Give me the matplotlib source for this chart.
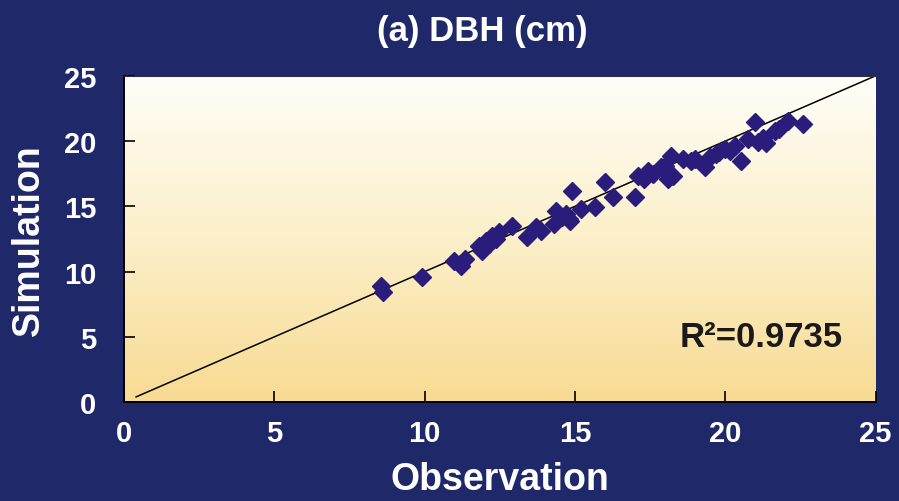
import numpy as np
import matplotlib.pyplot as plt
from matplotlib.colors import LinearSegmentedColormap

# observed vs simulated DBH (cm)
obs = [8.55, 8.62, 9.91, 10.97, 11.21, 11.34, 11.80, 11.90, 12.04, 12.14, 12.23,
       12.37, 12.47, 12.90, 13.40, 13.69, 13.86, 14.29, 14.36, 14.56, 14.69, 14.79,
       14.85, 14.89, 15.19, 15.68, 16.01, 16.28, 17.01, 17.11, 17.30, 17.44, 17.60,
       17.87, 18.00, 18.10, 18.20, 18.27, 18.60, 18.87, 19.00, 19.33, 19.50, 19.70,
       19.80, 19.99, 20.16, 20.32, 20.52, 20.76, 20.99, 21.09, 21.25, 21.35, 21.65,
       21.78, 22.08, 22.58]
sim = [8.90, 8.44, 9.59, 10.82, 10.43, 10.97, 11.96, 11.58, 12.35, 12.12, 12.73,
       12.50, 13.04, 13.50, 12.65, 13.42, 13.11, 13.65, 14.65, 14.19, 14.42, 14.03,
       13.88, 16.18, 14.80, 14.95, 16.87, 15.72, 15.72, 17.33, 17.10, 17.71, 17.50,
       18.02, 18.10, 17.10, 18.87, 17.33, 18.60, 18.48, 18.63, 18.02, 18.80, 19.02,
       19.20, 19.40, 19.25, 19.63, 18.48, 20.17, 21.47, 19.94, 20.20, 19.86, 20.78,
       20.90, 21.55, 21.32]

fit_slope = 1.0
fit_intercept = 0.0
fit_range = [0.4, 25]
r2_text = "R\u00b2=0.9735"

navy = "#1f2868"
marker_col = "#2a1c7a"

plt.rcParams["font.family"] = ["Liberation Sans", "DejaVu Sans"]
plt.rcParams["font.weight"] = "bold"

fig = plt.figure(figsize=(8.99, 5.02), dpi=100, facecolor=navy)
ax = fig.add_axes([0.138, 0.197, 0.836, 0.650])

# pale yellow gradient behind the points
grad = np.linspace(0, 1, 256).reshape(-1, 1)
cmap = LinearSegmentedColormap.from_list("bg", ["#f8db93", "#fcefc9", "#fffef9"])
ax.imshow(grad, cmap=cmap, origin="lower", extent=[0, 25, 0, 25],
          aspect="auto", zorder=0)

xl = np.array(fit_range)
ax.plot(xl, fit_slope * xl + fit_intercept, color="black", lw=1.1, zorder=2)
ax.plot(obs, sim, linestyle="none", marker="D", markersize=9.5,
        color=marker_col, markeredgecolor=marker_col, zorder=3)

ax.set_xlim(0, 25)
ax.set_ylim(0, 25)
ax.set_xticks([0, 5, 10, 15, 20, 25])
ax.set_yticks([0, 5, 10, 15, 20, 25])

ax.tick_params(direction="in", length=8, width=1.2, color="black",
               labelcolor="white", labelsize=21)
ax.tick_params(axis="y", pad=20)
ax.tick_params(axis="x", pad=12)
for lab in ax.get_xticklabels() + ax.get_yticklabels():
    lab.set_fontweight("bold")

ax.spines["left"].set_color("black")
ax.spines["left"].set_linewidth(1.4)
ax.spines["bottom"].set_color("black")
ax.spines["bottom"].set_linewidth(1.4)
ax.spines["top"].set_color("#333333")
ax.spines["top"].set_linewidth(0.8)
ax.spines["right"].set_visible(False)

ax.set_xlabel("Observation", color="white", fontsize=27, fontweight="bold",
              labelpad=10)
ax.set_ylabel("Simulation", color="white", fontsize=27, fontweight="bold",
              labelpad=12)
fig.text(0.537, 0.938, "(a) DBH (cm)", color="white", fontsize=25,
         fontweight="bold", ha="center", va="center")

ax.text(23.9, 5.0, r2_text, color="#1a1a1a", fontsize=25, fontweight="bold",
        ha="right", va="center")

fig.savefig("out.png", dpi=100, facecolor=navy)
